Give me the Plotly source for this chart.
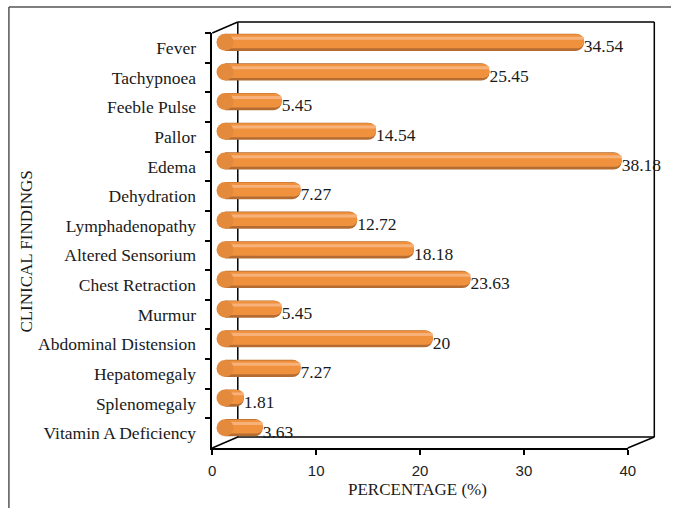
import plotly.graph_objects as go

categories = ["Fever", "Tachypnoea", "Feeble Pulse", "Pallor", "Edema", "Dehydration",
              "Lymphadenopathy", "Altered Sensorium", "Chest Retraction", "Murmur",
              "Abdominal Distension", "Hepatomegaly", "Splenomegaly", "Vitamin A Deficiency"]
values = [34.54, 25.45, 5.45, 14.54, 38.18, 7.27, 12.72, 18.18, 23.63, 5.45, 20, 7.27, 1.81, 3.63]
value_labels = ["34.54", "25.45", "5.45", "14.54", "38.18", "7.27", "12.72", "18.18",
                "23.63", "5.45", "20", "7.27", "1.81", "3.63"]
x_ticks = [0, 10, 20, 30, 40]

W, H = 679, 508
def px(x):
    return x / W
def py(y):
    return 1 - y / H

SERIF = "Liberation Serif, Times New Roman, serif"
SANS = "Liberation Sans, Arial, sans-serif"
n = len(categories)

fig = go.Figure()

# front-plane subplot (carries the visible axes)
fig.add_trace(go.Scatter(
    x=values, y=categories, xaxis="x", yaxis="y", mode="markers",
    marker=dict(opacity=0), hoverinfo="skip", showlegend=False))

# rounded left caps (under the bars)
fig.add_trace(go.Scatter(
    x=[0.0] * n, y=categories, xaxis="x2", yaxis="y2", mode="markers",
    cliponaxis=False,
    marker=dict(size=17, color="#E48A3C", line=dict(width=0)),
    hoverinfo="skip", showlegend=False))

# cylinder-like bars drawn in the mid-depth plane (x2/y2)
layers = [
    (0.58, -0.29, "#B46C33"),
    (0.47, -0.27, "#F0913E"),
    (0.10, -0.19, "#F6B27A"),
]
for w, off, col in layers:
    fig.add_trace(go.Bar(
        x=values, y=categories, orientation="h", xaxis="x2", yaxis="y2",
        width=w, offset=off,
        marker=dict(color=col, line=dict(width=0), cornerradius="50%"),
        hoverinfo="skip", showlegend=False))

# value labels
fig.add_trace(go.Scatter(
    x=values, y=categories, xaxis="x2", yaxis="y", mode="text",
    text=value_labels, textposition="middle right", cliponaxis=False,
    textfont=dict(family=SERIF, size=17.5, color="#1a1a1a"),
    hoverinfo="skip", showlegend=False))

fx0, fx1, fy0, fy1 = 212, 635, 33, 448
dx, dy = 13, -5.5

fig.update_layout(
    width=W, height=H, margin=dict(l=0, r=0, t=0, b=0),
    paper_bgcolor="white", plot_bgcolor="rgba(0,0,0,0)",
    barmode="overlay",
    xaxis=dict(domain=[px(fx0), px(fx1)], range=[0, 40], tickvals=x_ticks,
               ticks="outside", ticklen=5, tickwidth=1.5, tickcolor="black",
               showline=True, linecolor="black", linewidth=1.5, showgrid=False, zeroline=False,
               tickfont=dict(family=SANS, size=15, color="#222"), ticklabelstandoff=3,
               anchor="y"),
    yaxis=dict(domain=[py(fy1), py(fy0)], type="category", categoryorder="array",
               categoryarray=categories, range=[n - 0.5, -0.5], tickson="boundaries",
               ticks="outside", ticklen=6, tickwidth=1.5, tickcolor="black",
               showline=True, linecolor="black", linewidth=1.5, showgrid=False,
               tickfont=dict(family=SERIF, size=17.5, color="#1a1a1a"), ticklabelstandoff=11,
               anchor="x"),
    xaxis2=dict(domain=[px(fx0 + dx), px(fx1 + dx)], range=[0, 40], visible=False,
                anchor="y2"),
    yaxis2=dict(domain=[py(fy1 + dy), py(fy0 + dy)], type="category", categoryorder="array",
                categoryarray=categories, range=[n - 0.5, -0.5], visible=False,
                anchor="x2"),
)

# 3D frame decoration (back wall and depth edges)
bx0, bx1, by0, by1 = 238, 662, 22, 437
segs = [
    (bx0, by0, bx1, by0), (bx1, by0, bx1, by1), (bx0, by1, bx1, by1), (bx0, by0, bx0, by1),
    (fx0, fy0, bx0, by0), (fx0, fy1, bx0, by1), (fx1, fy1, bx1, by1),
]
for x0, y0, x1, y1 in segs:
    fig.add_shape(type="line", xref="paper", yref="paper",
                  x0=px(x0), y0=py(y0), x1=px(x1), y1=py(y1),
                  line=dict(color="black", width=1.5), layer="below")

# outer frame (left and top edges visible in the crop)
fig.add_shape(type="line", xref="paper", yref="paper",
              x0=px(5), y0=py(508), x1=px(5), y1=py(7),
              line=dict(color="#555", width=1.5), layer="below")
fig.add_shape(type="line", xref="paper", yref="paper",
              x0=px(5), y0=py(7), x1=px(679), y1=py(7),
              line=dict(color="#555", width=1.5), layer="below")

fig.add_annotation(text="CLINICAL FINDINGS", xref="paper", yref="paper",
                   x=px(22), y=py(252), xanchor="center", yanchor="middle",
                   textangle=-90, showarrow=False,
                   font=dict(family=SERIF, size=17, color="#1a1a1a"))
fig.add_annotation(text="PERCENTAGE (%)", xref="paper", yref="paper",
                   x=px(421), y=py(489), xanchor="center", yanchor="middle",
                   showarrow=False,
                   font=dict(family=SERIF, size=17, color="#1a1a1a"))

fig.write_html("out.html")
